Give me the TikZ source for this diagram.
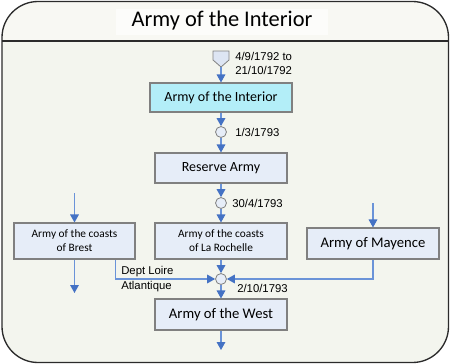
\documentclass[tikz,border=0pt]{standalone}
\usepackage{fontspec}
\setmainfont{Carlito}
\newfontfamily\lblfont{Liberation Sans}
\usetikzlibrary{arrows.meta, calc, positioning}
\definecolor{framedk}{HTML}{2B2B2B}
\definecolor{bodyfill}{HTML}{F3F5EE}
\definecolor{titlefill}{HTML}{F8F8F3}
\definecolor{boxfill}{HTML}{E6EDF8}
\definecolor{boxcyan}{HTML}{B3EEF8}
\definecolor{boxline}{HTML}{808080}
\definecolor{lineblue}{HTML}{6A93D8}
\definecolor{arrowblue}{HTML}{4472C4}
\definecolor{pentfill}{HTML}{DDE5F3}
\tikzset{
  armybox/.style  = {draw=boxline, fill=boxfill, line width=0.8pt, align=center,
                     inner sep=1pt, minimum width=99pt, minimum height=23pt},
  hubdot/.style   = {circle, draw=boxline, fill=boxfill, line width=0.6pt,
                     minimum size=8.2pt, inner sep=0pt},
  flow/.style     = {draw=lineblue, line width=0.8pt,
                     -{Triangle[length=6pt, width=6.5pt, color=arrowblue]}},
  datelab/.style  = {font=\lblfont\fontsize{8.5}{10}\selectfont, anchor=west, inner sep=0pt},
}
\begin{document}
\begin{tikzpicture}[x=0.75pt, y=-0.75pt]
  \useasboundingbox (0,0) rectangle (450,364);
  % frame
  \fill[bodyfill, rounded corners=27pt] (2,1.5) rectangle (448.5,362.5);
  \begin{scope}
    \clip[rounded corners=27pt] (2,1.5) rectangle (448.5,362.5);
    \fill[titlefill] (0,0) rectangle (450,41);
  \end{scope}
  \draw[framedk, line width=1pt, rounded corners=27pt] (2,1.5) rectangle (448.5,362.5);
  \draw[framedk, line width=0.9pt] (2,41) -- (448.5,41);
  \fill[white!60!titlefill] (116,9) rectangle (328,35);
  \node[font=\fontsize{16.8}{18}\selectfont] (title) at (222,21) {Army of the Interior};
  % nodes
  \draw[draw=boxline, fill=pentfill, line width=0.6pt]
    (213,51) -- (229,51) -- (229,60) -- (221,67) -- (213,60) -- cycle;
  \coordinate (pent) at (221,67);
  \node[armybox, fill=boxcyan, minimum width=106.5pt, minimum height=21.75pt,
        font=\fontsize{10.5}{12}\selectfont] (interior) at (221,97.5) {Army of the Interior};
  \node[hubdot] (d1) at (221,132) {};
  \node[armybox, minimum height=22.5pt, font=\fontsize{10.5}{12}\selectfont] (reserve) at (221,168) {Reserve Army};
  \node[hubdot] (d2) at (221,203) {};
  \node[armybox, minimum height=27pt, font=\fontsize{8.5}{10.5}\selectfont] (rochelle) at (221,241)
    {Army of the coasts\\of La Rochelle};
  \node[armybox, minimum width=90.75pt, minimum height=27pt, font=\fontsize{8.5}{10.5}\selectfont] (brest) at (74.5,241)
    {Army of the coasts\\of Brest};
  \node[armybox, minimum height=23.25pt, font=\fontsize{11}{13}\selectfont] (mayence) at (373,243.5) {Army of Mayence};
  \node[hubdot] (d3) at (221,279) {};
  \node[armybox, minimum height=23.25pt, font=\fontsize{11}{13}\selectfont] (west) at (221,314.5) {Army of the West};
  \coordinate (brestin) at (74.5,193);
  \coordinate (brestout) at (74.5,293);
  \coordinate (mayencein) at (373,203);
  \coordinate (westout) at (221,350);
  % connectors
  \draw[flow] (pent) -- (interior.north);
  \draw[flow] (interior.south) -- (d1.north);
  \draw[flow] (d1.south) -- (reserve.north);
  \draw[flow] (reserve.south) -- (d2.north);
  \draw[flow] (d2.south) -- (rochelle.north);
  \draw[flow] (rochelle.south) -- (d3.north);
  \draw[flow] (d3.south) -- (west.north);
  \draw[flow] (west.south) -- (westout);
  \draw[flow] (brestin) -- (brest.north);
  \draw[flow] (brest.south) -- (brestout);
  \draw[flow] ($(brest.south east)+(-20,0)$) |- (d3.west);
  \draw[flow] (mayencein) -- (mayence.north);
  \draw[flow] (mayence.south) |- (d3.east);
  % dates
  \node[datelab] (lab1a) at (235,56) {4/9/1792 to};
  \node[datelab] (lab1b) at (235,70) {21/10/1792};
  \node[datelab] (lab2) at (235,132) {1/3/1793};
  \node[datelab] (lab3) at (232,203) {30/4/1793};
  \node[datelab] (lab4a) at (121,272) {Dept Loire};
  \node[datelab] (lab4b) at (121,287) {Atlantique};
  \node[datelab] (lab5) at (237,288) {2/10/1793};
\end{tikzpicture}
\end{document}
